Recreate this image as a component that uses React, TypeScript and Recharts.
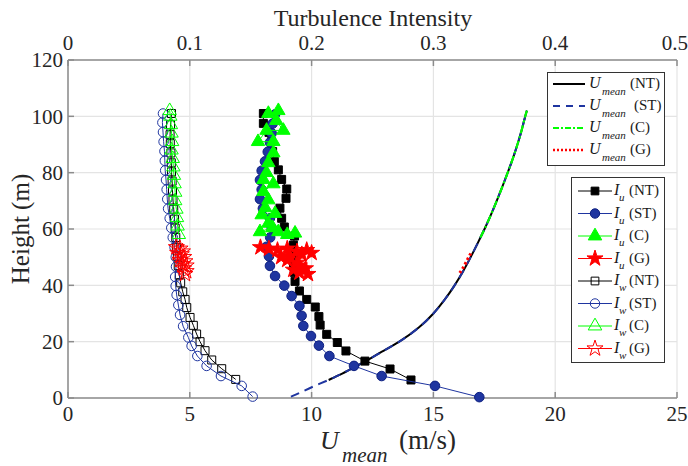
import React from "react";
import {
  ScatterChart,
  Scatter,
  XAxis,
  YAxis,
  CartesianGrid,
  Symbols,
} from "recharts";

// [height (m), value]
const uMeanNT: [number, number][] = [
  [6.4, 10.7], [8, 11.1], [10, 11.55], [13, 12.2], [16, 12.8], [20, 13.6],
  [25, 14.4], [30, 15.0], [35, 15.47], [40, 15.87], [45, 16.22], [50, 16.53],
  [55, 16.82], [60, 17.1], [65, 17.36], [70, 17.6], [75, 17.83], [80, 18.05],
  [85, 18.26], [90, 18.45], [95, 18.62], [100, 18.77], [102, 18.84],
];
const uMeanST: [number, number][] = [
  [0.5, 9.15], [2, 9.55], [4, 10.05], [6.4, 10.7], [8, 11.1], [10, 11.55],
  [13, 12.2], [16, 12.8], [20, 13.6], [25, 14.4], [30, 15.0], [35, 15.47],
  [40, 15.87], [45, 16.22], [50, 16.53], [55, 16.82], [60, 17.1], [65, 17.36],
  [70, 17.6], [75, 17.83], [80, 18.05], [85, 18.26], [90, 18.45], [95, 18.62],
  [100, 18.77], [102, 18.84],
];
const uMeanC: [number, number][] = [
  [57, 16.93], [60, 17.1], [65, 17.36], [70, 17.6], [75, 17.83], [80, 18.05],
  [85, 18.26], [90, 18.45], [95, 18.62], [100, 18.77], [102, 18.84],
];
const uMeanG: [number, number][] = [
  [44.4, 16.08], [46, 16.2], [48, 16.33], [50, 16.45], [52, 16.58],
];

const iuNT: [number, number][] = [
  [6.4, 0.2816], [10.3, 0.2644], [13.1, 0.2438], [16.7, 0.2282], [19.7, 0.2211],
  [22.6, 0.2124], [25.9, 0.207], [28.9, 0.206], [32.3, 0.203], [35, 0.196],
  [38, 0.19], [41.4, 0.1864], [44.6, 0.1858], [47.8, 0.1852], [51, 0.1855],
  [54.3, 0.185], [57.5, 0.186], [60.7, 0.1776], [63.8, 0.1754], [67.4, 0.174],
  [70.9, 0.179], [74.2, 0.1796], [77.6, 0.1754], [81, 0.1727], [84, 0.1694],
  [87.5, 0.168], [91, 0.167], [94.3, 0.165], [97.5, 0.1604], [101, 0.1604],
];
const iuST: [number, number][] = [
  [0.3, 0.3377], [4.3, 0.3013], [7.8, 0.2575], [11.4, 0.2348], [14.9, 0.2146],
  [18.6, 0.206], [22, 0.1995], [25.6, 0.1932], [29.2, 0.1918], [32.7, 0.19],
  [36.2, 0.1836], [39.9, 0.1776], [43.3, 0.17], [46.9, 0.1658], [50.3, 0.165],
  [53.7, 0.163], [57, 0.166], [60.4, 0.1672], [63.8, 0.1658], [67.3, 0.16],
  [70.6, 0.1576], [74, 0.159], [77.4, 0.1576], [80.7, 0.159], [84, 0.1617],
  [87.4, 0.164], [90.7, 0.1658], [94, 0.1672], [97.4, 0.168], [100.7, 0.17],
];
const iuC: [number, number][] = [
  [102, 0.1727], [101, 0.1645], [98.5, 0.171], [95, 0.1768], [95, 0.163],
  [91, 0.156], [91, 0.1686], [87, 0.1686], [83.5, 0.1645], [80, 0.163],
  [77.5, 0.1604], [76, 0.1686], [73.3, 0.1604], [70.3, 0.1645], [67.5, 0.162],
  [65.5, 0.17], [65, 0.159], [62, 0.1645], [60.5, 0.168], [59, 0.1576],
  [59, 0.1727], [58, 0.18], [58.5, 0.1864],
];
const iuG: [number, number][] = [
  [53.5, 0.158], [53, 0.165], [52.5, 0.172], [53, 0.18], [52, 0.188],
  [52.5, 0.196], [51.5, 0.2], [51, 0.192], [50.5, 0.182], [50, 0.175],
  [49, 0.18], [48, 0.188], [47, 0.19], [46, 0.195], [45.5, 0.185],
  [44.5, 0.19], [44, 0.197],
];

const iwNT: [number, number][] = [
  [6.6, 0.1377], [10.4, 0.1262], [13.5, 0.118], [16.8, 0.1125], [20, 0.1084],
  [22.7, 0.1056], [25.8, 0.1029], [28.6, 0.1002], [32.1, 0.0975], [35, 0.0961],
  [37.7, 0.0942], [40.9, 0.0925], [43.7, 0.0914], [47, 0.0905], [50.3, 0.0898],
  [53.5, 0.089], [57, 0.0885], [60.3, 0.088], [63.5, 0.0875], [67, 0.0868],
  [70.3, 0.0862], [73.5, 0.0858], [77, 0.0855], [80.3, 0.085], [83.5, 0.0848],
  [87, 0.0845], [90.3, 0.084], [93.5, 0.0838], [97, 0.0842], [101, 0.085],
];
const iwST: [number, number][] = [
  [0.5, 0.1516], [4.3, 0.1426], [7.8, 0.1256], [11.4, 0.1138], [14.9, 0.1062],
  [18.5, 0.1015], [21.5, 0.0988], [25.5, 0.0945], [29.5, 0.092], [33, 0.0906],
  [36.6, 0.0892], [39.8, 0.0884], [43, 0.088], [46.6, 0.0887], [50, 0.0885],
  [53.5, 0.0875], [57, 0.086], [60.4, 0.0848], [63.8, 0.0835], [67.2, 0.0822],
  [70.6, 0.0815], [74, 0.081], [77.4, 0.0805], [80.8, 0.0798], [84.2, 0.0795],
  [87.6, 0.0792], [91, 0.0785], [94.4, 0.078], [97.8, 0.0775], [101, 0.078],
];
const iwC: [number, number][] = [
  [102, 0.0835], [100, 0.084], [97, 0.0845], [94, 0.085], [91, 0.0855],
  [88, 0.085], [85, 0.086], [82, 0.0865], [79, 0.087], [76, 0.0875],
  [73, 0.088], [70, 0.088], [67, 0.089], [64, 0.0895], [61, 0.09], [58, 0.091],
];
const iwG: [number, number][] = [
  [53.5, 0.089], [53, 0.092], [52, 0.094], [51.5, 0.09], [51, 0.093],
  [50, 0.095], [49, 0.092], [48.5, 0.096], [47.5, 0.094], [47, 0.097],
  [46, 0.095], [45, 0.097], [44, 0.096],
];

const heightTicks = [0, 20, 40, 60, 80, 100, 120];
const uTicks = [0, 5, 10, 15, 20, 25];
const tiTicks = [0, 0.1, 0.2, 0.3, 0.4, 0.5];

const BLUE = "#1f35a0";
const GREEN = "#00ff00";
const RED = "#ff0000";
const FONT = "Liberation Serif";

const toPoints = (rows: [number, number][]) => rows.map(([h, v]) => ({ x: v, y: h }));

const marker = (type: any, size: number, fill: string, stroke: string) => (p: any) => (
  <Symbols cx={p.cx} cy={p.cy} type={type} size={size} fill={fill} stroke={stroke} strokeWidth={1} />
);
const noMarker = () => <g />;

const tickStyle = { fontSize: 21, fill: "#262626", fontFamily: FONT };

const YLabel = () => (
  <text x={20} y={229} transform="rotate(-90 20 229)" textAnchor="middle" dominantBaseline="central"
    fontSize={25} fontFamily={FONT} fill="#262626">
    Height (m)
  </text>
);
const TopLabel = () => (
  <text x={373} y={26} textAnchor="middle" fontSize={24} fontFamily={FONT} fill="#262626">
    Turbulence Intensity
  </text>
);
const BottomLabel = () => (
  <g fontFamily={FONT} fill="#262626">
    <text x={320} y={449} fontSize={26} fontStyle="italic">U</text>
    <text x={342} y={462} fontSize={21} fontStyle="italic">mean</text>
    <text x={399} y={449} fontSize={27}>(m/s)</text>
  </g>
);

const meanLegend = [
  { tag: "(NT)", color: "#000", dash: undefined as string | undefined, width: 2 },
  { tag: "(ST)", color: BLUE, dash: "7 6", width: 2 },
  { tag: "(C)", color: GREEN, dash: "6 2 2 2", width: 2 },
  { tag: "(G)", color: RED, dash: "2 2", width: 2.5 },
];
const tiLegend = [
  { sub: "u", tag: "(NT)", type: "square", size: 60, fill: "#000", stroke: "#000", line: "#000" },
  { sub: "u", tag: "(ST)", type: "circle", size: 70, fill: BLUE, stroke: "#0d1f80", line: BLUE },
  { sub: "u", tag: "(C)", type: "triangle", size: 80, fill: GREEN, stroke: GREEN, line: GREEN },
  { sub: "u", tag: "(G)", type: "star", size: 80, fill: RED, stroke: RED, line: RED },
  { sub: "w", tag: "(NT)", type: "square", size: 60, fill: "none", stroke: "#000", line: "#000" },
  { sub: "w", tag: "(ST)", type: "circle", size: 70, fill: "none", stroke: BLUE, line: BLUE },
  { sub: "w", tag: "(C)", type: "triangle", size: 80, fill: "none", stroke: GREEN, line: GREEN },
  { sub: "w", tag: "(G)", type: "star", size: 80, fill: "none", stroke: RED, line: RED },
];

function Legends() {
  return (
    <svg width={688} height={466} style={{ position: "absolute", left: 0, top: 0, pointerEvents: "none" }}
      fontFamily={FONT} fill="#1a1a1a">
      <rect x={547.5} y={72.5} width={117} height={93} fill="#fff" stroke="#333" />
      {meanLegend.map((e, i) => {
        const y = 84 + i * 22;
        return (
          <g key={e.tag}>
            <line x1={553} x2={585} y1={y} y2={y} stroke={e.color} strokeWidth={e.width} strokeDasharray={e.dash} />
            <text x={589} y={y + 4} fontSize={16} fontStyle="italic">U</text>
            <text x={602} y={y + 11} fontSize={11} fontStyle="italic">mean</text>
            <text x={e.tag === "(ST)" ? 634 : 630} y={y + 4} fontSize={15}>{e.tag}</text>
          </g>
        );
      })}
      <rect x={571.5} y={177.5} width={93} height={185} fill="#fff" stroke="#333" />
      {tiLegend.map((e, i) => {
        const y = 191 + i * 22.5;
        return (
          <g key={i}>
            <line x1={578} x2={612} y1={y} y2={y} stroke={e.line} strokeWidth={1} />
            <Symbols cx={595} cy={y} type={e.type as any} size={e.size} fill={e.fill} stroke={e.stroke} strokeWidth={1} />
            <text x={614} y={y + 4} fontSize={16} fontStyle="italic">I</text>
            <text x={619} y={y + 10} fontSize={11} fontStyle="italic">{e.sub}</text>
            <text x={629} y={y + 4} fontSize={15}>{e.tag}</text>
          </g>
        );
      })}
    </svg>
  );
}

export default function App() {
  return (
    <div style={{ position: "absolute", left: 0, top: 0, width: 688, height: 466, background: "#fff" }}>
      <ScatterChart width={688} height={466} margin={{ top: 0, right: 11, bottom: 0, left: 0 }}>
        <CartesianGrid xAxisId="u" yAxisId="h" stroke="#e4e4e4" strokeWidth={1.2} />
        <XAxis
          xAxisId="u"
          dataKey="x"
          type="number"
          domain={[0, 25]}
          ticks={uTicks}
          height={68}
          tick={tickStyle}
          tickSize={-6}
          tickMargin={14}
          stroke="#8c8c8c"
          strokeWidth={1.5}
          label={<BottomLabel />}
        />
        <XAxis
          xAxisId="ti"
          dataKey="x"
          type="number"
          orientation="top"
          domain={[0, 0.5]}
          ticks={tiTicks}
          height={60}
          tick={tickStyle}
          tickSize={-6}
          tickMargin={16}
          stroke="#8c8c8c"
          strokeWidth={1.5}
          label={<TopLabel />}
        />
        <YAxis
          yAxisId="h"
          dataKey="y"
          type="number"
          domain={[0, 120]}
          ticks={heightTicks}
          width={68}
          tick={tickStyle}
          tickSize={-6}
          tickMargin={11}
          stroke="#8c8c8c"
          strokeWidth={1.5}
          label={<YLabel />}
        />
        <YAxis
          yAxisId="r"
          orientation="right"
          dataKey="y"
          type="number"
          domain={[0, 120]}
          ticks={heightTicks}
          width={0}
          tick={() => <g />}
          tickSize={-6}
          stroke="#8c8c8c"
          strokeWidth={1.5}
        />

        <Scatter xAxisId="u" yAxisId="h" data={toPoints(uMeanNT)} isAnimationActive={false}
          lineJointType="natural" line={{ stroke: "#000", strokeWidth: 2 }} shape={noMarker} />
        <Scatter xAxisId="u" yAxisId="h" data={toPoints(uMeanST)} isAnimationActive={false}
          lineJointType="natural" line={{ stroke: BLUE, strokeWidth: 2, strokeDasharray: "9 6" }} shape={noMarker} />
        <Scatter xAxisId="u" yAxisId="h" data={toPoints(uMeanC)} isAnimationActive={false}
          lineJointType="natural" line={{ stroke: GREEN, strokeWidth: 2.2, strokeDasharray: "8 3 2 3" }} shape={noMarker} />
        <Scatter xAxisId="u" yAxisId="h" data={toPoints(uMeanG)} isAnimationActive={false}
          lineJointType="natural" line={{ stroke: RED, strokeWidth: 3, strokeDasharray: "2.5 2.5" }} shape={noMarker} />

        <Scatter xAxisId="ti" yAxisId="h" data={toPoints(iuNT)} isAnimationActive={false}
          line={{ stroke: "#000", strokeWidth: 1 }} shape={marker("square", 64, "#000", "#000")} />
        <Scatter xAxisId="ti" yAxisId="h" data={toPoints(iuST)} isAnimationActive={false}
          line={{ stroke: BLUE, strokeWidth: 1 }} shape={marker("circle", 72, BLUE, "#0d1f80")} />
        <Scatter xAxisId="ti" yAxisId="h" data={toPoints(iuC)} isAnimationActive={false}
          line={{ stroke: GREEN, strokeWidth: 1 }} shape={marker("triangle", 78, GREEN, GREEN)} />
        <Scatter xAxisId="ti" yAxisId="h" data={toPoints(iuG)} isAnimationActive={false}
          line={{ stroke: RED, strokeWidth: 1 }} shape={marker("star", 80, RED, RED)} />

        <Scatter xAxisId="ti" yAxisId="h" data={toPoints(iwNT)} isAnimationActive={false}
          line={{ stroke: "#000", strokeWidth: 1 }} shape={marker("square", 64, "none", "#000")} />
        <Scatter xAxisId="ti" yAxisId="h" data={toPoints(iwST)} isAnimationActive={false}
          line={{ stroke: BLUE, strokeWidth: 1 }} shape={marker("circle", 72, "none", BLUE)} />
        <Scatter xAxisId="ti" yAxisId="h" data={toPoints(iwC)} isAnimationActive={false}
          line={{ stroke: GREEN, strokeWidth: 1 }} shape={marker("triangle", 78, "none", GREEN)} />
        <Scatter xAxisId="ti" yAxisId="h" data={toPoints(iwG)} isAnimationActive={false}
          line={{ stroke: RED, strokeWidth: 1 }} shape={marker("star", 80, "none", RED)} />
      </ScatterChart>
      <Legends />
    </div>
  );
}
